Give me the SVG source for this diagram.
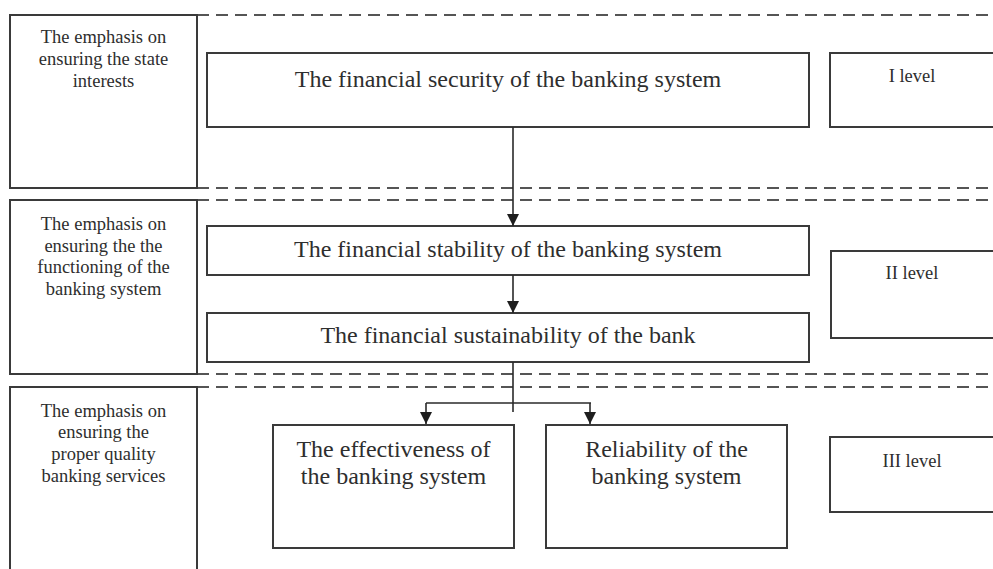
<svg xmlns="http://www.w3.org/2000/svg" width="993" height="569" viewBox="0 0 993 569">
  <style>
    .box { fill: #ffffff; stroke: #3a3a3a; stroke-width: 2; }
    .band { fill: none; stroke: #555555; stroke-width: 2; stroke-dasharray: 12 7; }
    .link { fill: none; stroke: #2a2a2a; stroke-width: 1.6; }
    text { font-family: "Liberation Serif", "Times New Roman", serif; fill: #2e2e2e; text-anchor: middle; }
    .main { font-size: 24px; }
    .side { font-size: 18.5px; }
    .lvl { font-size: 18.5px; }
  </style>
  <defs>
    <marker id="arrow" viewBox="0 0 12 12" refX="12" refY="6" markerWidth="12" markerHeight="12" markerUnits="userSpaceOnUse" orient="auto">
      <path d="M0,0 L12,6 L0,12 Z" fill="#1e1e1e"/>
    </marker>
  </defs>
  <rect width="993" height="569" fill="#ffffff"/>

  <!-- level band borders -->
  <g id="bands">
    <line class="band" x1="197" y1="15" x2="993" y2="15"/>
    <line class="band" x1="197" y1="188" x2="993" y2="188"/>
    <line class="band" x1="197" y1="200" x2="993" y2="200"/>
    <line class="band" x1="197" y1="374" x2="993" y2="374"/>
    <line class="band" x1="197" y1="387" x2="993" y2="387"/>
  </g>

  <!-- emphasis captions -->
  <g id="emphasis-state">
    <rect class="box" x="10" y="15" width="187" height="173"/>
    <text class="side" x="103.5" y="43">The emphasis on</text>
    <text class="side" x="103.5" y="65">ensuring the state</text>
    <text class="side" x="103.5" y="87">interests</text>
  </g>
  <g id="emphasis-functioning">
    <rect class="box" x="10" y="200" width="187" height="174"/>
    <text class="side" x="103.5" y="230">The emphasis on</text>
    <text class="side" x="103.5" y="252">ensuring the the</text>
    <text class="side" x="103.5" y="273">functioning of the</text>
    <text class="side" x="103.5" y="295">banking system</text>
  </g>
  <g id="emphasis-quality">
    <rect class="box" x="10" y="387" width="187" height="200"/>
    <text class="side" x="103.5" y="417">The emphasis on</text>
    <text class="side" x="103.5" y="438">ensuring the</text>
    <text class="side" x="103.5" y="460">proper quality</text>
    <text class="side" x="103.5" y="482">banking services</text>
  </g>

  <!-- main chain -->
  <g id="security">
    <rect class="box" x="207" y="53" width="602" height="74"/>
    <text class="main" x="508" y="87">The financial security of the banking system</text>
  </g>
  <g id="stability">
    <rect class="box" x="207" y="226" width="602" height="49"/>
    <text class="main" x="508" y="257">The financial stability of the banking system</text>
  </g>
  <g id="sustainability">
    <rect class="box" x="207" y="313" width="602" height="49"/>
    <text class="main" x="508" y="343">The financial sustainability of the bank</text>
  </g>
  <g id="effectiveness">
    <rect class="box" x="273" y="425" width="241" height="123"/>
    <text class="main" x="393.5" y="457">The effectiveness of</text>
    <text class="main" x="393.5" y="484">the banking system</text>
  </g>
  <g id="reliability">
    <rect class="box" x="546" y="425" width="241" height="123"/>
    <text class="main" x="666.5" y="457">Reliability of the</text>
    <text class="main" x="666.5" y="484">banking system</text>
  </g>

  <!-- level labels -->
  <g id="level-1">
    <rect class="box" x="830" y="53" width="200" height="74"/>
    <text class="lvl" x="912" y="82">I level</text>
  </g>
  <g id="level-2">
    <rect class="box" x="831" y="251" width="200" height="87"/>
    <text class="lvl" x="912" y="279">II level</text>
  </g>
  <g id="level-3">
    <rect class="box" x="830" y="437" width="200" height="75"/>
    <text class="lvl" x="912" y="467">III level</text>
  </g>

  <!-- connectors -->
  <g id="connectors">
    <line class="link" x1="513" y1="127" x2="513" y2="226" marker-end="url(#arrow)"/>
    <line class="link" x1="513" y1="275" x2="513" y2="313" marker-end="url(#arrow)"/>
    <line class="link" x1="513" y1="362" x2="513" y2="412"/>
    <line class="link" x1="426" y1="403" x2="591" y2="403"/>
    <line class="link" x1="426" y1="403" x2="426" y2="424" marker-end="url(#arrow)"/>
    <line class="link" x1="590" y1="403" x2="590" y2="424" marker-end="url(#arrow)"/>
  </g>
</svg>
